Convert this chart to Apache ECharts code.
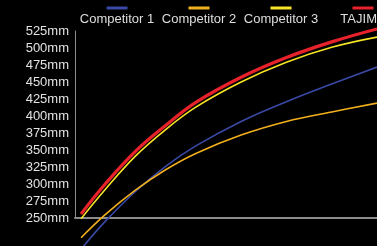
<!DOCTYPE html>
<html>
<head>
<meta charset="utf-8">
<title>Competitor comparison</title>
<script src="https://cdn.jsdelivr.net/npm/echarts@6/dist/echarts.min.js"></script>
<style>
  html, body { margin: 0; padding: 0; background: #000; }
  #chart { width: 377px; height: 246px; }
</style>
</head>
<body>
<div id="chart"></div>
<script>
  'use strict';

  // x positions of the readings (arbitrary scale, curves run off the right edge)
  var steps = [2, 10, 20, 30, 40, 55, 70, 85, 100];
  // readings in mm
  var competitor1 = [204, 245, 289, 326, 356, 392, 421, 447, 472];
  var competitor2 = [221, 255, 291, 321, 345, 372, 392, 406, 419];
  var competitor3 = [249, 292, 341, 380, 413, 450, 479, 501, 516];
  var tajima = [256, 300, 348, 386, 420, 457, 486, 509, 528];

  var names = ['Competitor 1', 'Competitor 2', 'Competitor 3', 'TAJIMA'];
  var colors = ['#3a49a6', '#f2b01e', '#f7e526', '#e8222a'];
  var widths = [1.6, 1.6, 1.6, 3.2];
  var values = [competitor1, competitor2, competitor3, tajima];

  var yMin = 250, yMax = 525, yStep = 25;

  function pairs(list) {
    return list.map(function (v, i) { return [steps[i], v]; });
  }

  // legend: colour bar centred above the name
  var rich = {
    t: { width: 76, align: 'center', fontSize: 13, lineHeight: 14, color: '#dedede', fontFamily: 'Liberation Sans' }
  };
  colors.forEach(function (c, i) {
    rich['s' + i] = { width: 21, height: 3, lineHeight: 9, align: 'center', backgroundColor: c };
  });

  var option = {
    backgroundColor: '#000',
    animation: false,
    legend: {
      data: names,
      left: 73,
      top: 2,
      width: 420,
      padding: 0,
      itemGap: 0,
      itemWidth: 0,
      itemHeight: 0,
      selectedMode: false,
      formatter: function (name) {
        return '{s' + names.indexOf(name) + '|}\n{t|' + name + '}';
      },
      textStyle: { rich: rich }
    },
    grid: { left: 75, right: 0, top: 31, bottom: 28, outerBoundsMode: 'none' },
    xAxis: {
      type: 'value',
      min: 0,
      max: 100,
      axisLine: { show: true, lineStyle: { color: '#8c8c8c', width: 2 } },
      axisTick: { show: false },
      axisLabel: { show: false },
      splitLine: { show: false }
    },
    yAxis: {
      type: 'value',
      min: yMin,
      max: yMax,
      interval: yStep,
      axisLine: { show: true, lineStyle: { color: '#8c8c8c', width: 1 } },
      axisTick: { show: false },
      splitLine: { show: false },
      axisLabel: {
        formatter: '{value}mm',
        color: '#e2e2e2',
        fontSize: 13,
        margin: 6,
        fontFamily: 'Liberation Sans'
      }
    },
    series: names.map(function (n, i) {
      return {
        name: n,
        type: 'line',
        smooth: 0.4,
        clip: false,
        showSymbol: false,
        color: colors[i],
        lineStyle: { width: widths[i], color: colors[i] },
        data: pairs(values[i])
      };
    })
  };

  echarts.init(document.getElementById('chart')).setOption(option);
</script>
</body>
</html>
